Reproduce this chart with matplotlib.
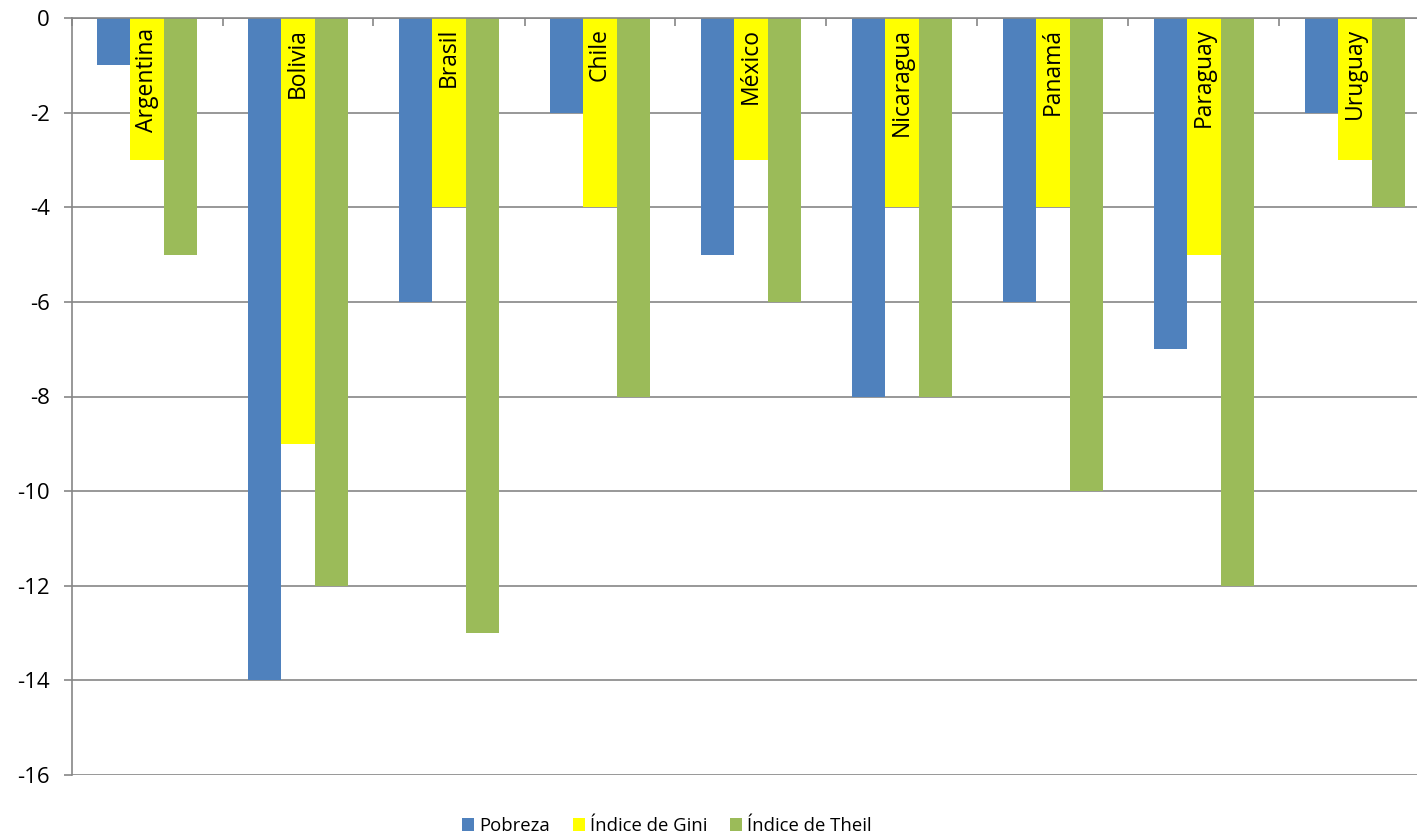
import matplotlib
matplotlib.use("Agg")
import matplotlib.pyplot as plt
import numpy as np
from matplotlib.patches import Patch
import matplotlib.transforms as mtransforms

plt.rcParams['font.family'] = ['Open Sans', 'DejaVu Sans']
plt.rcParams['axes.unicode_minus'] = False

categories = ["Argentina", "Bolivia", "Brasil", "Chile", "México", "Nicaragua", "Panamá", "Paraguay", "Uruguay"]
pobreza = [-1, -14, -6, -2, -5, -8, -6, -7, -2]
gini = [-3, -9, -4, -4, -3, -4, -4, -5, -3]
theil = [-5, -12, -13, -8, -6, -8, -10, -12, -4]
series_names = ["Pobreza", "Índice de Gini", "Índice de Theil"]
colors = ["#4F81BD", "#FFFF00", "#9BBB59"]

W, H = 1417, 839
fig = plt.figure(figsize=(W/100, H/100), dpi=100)
left, right, top, bottom = 71.5, 1430.5, 18, 775
ax = fig.add_axes([left/W, 1-bottom/H, (right-left)/W, (bottom-top)/H])

x = np.arange(len(categories))
bw = 1/4.5
for i, (vals, c) in enumerate(zip([pobreza, gini, theil], colors)):
    ax.bar(x + (i-1)*bw, vals, width=bw, color=c, edgecolor='none', zorder=2)

ax.set_xlim(-0.5, len(categories)-0.5)
ax.set_ylim(-16, 0)
ax.set_yticks(np.arange(-16, 1, 2))
ax.yaxis.grid(True, color='#868686', linewidth=1.2, zorder=0)
ax.set_axisbelow(True)

for s in ['right', 'bottom']:
    ax.spines[s].set_visible(False)
for s in ['left', 'top']:
    ax.spines[s].set_color('#868686')
    ax.spines[s].set_linewidth(1.2)

ax.tick_params(axis='y', length=5.5, color='#868686', width=1.2, labelsize=16, pad=10)
ax.xaxis.set_ticks_position('top')
ax.set_xticks(np.arange(-0.5, len(categories)-0.4, 1))
ax.set_xticklabels([])
ax.tick_params(axis='x', direction='in', length=6, color='#868686', width=1.2)

lbl_tr = mtransforms.offset_copy(ax.transData, fig=fig, x=0, y=-7, units='points')
for xi, name in zip(x, categories):
    ax.text(xi, 0, name, rotation=90, ha='center', va='top', fontsize=16.5,
            transform=lbl_tr, zorder=3)

handles = [Patch(facecolor=c, edgecolor='none') for c in colors]
fig.legend(handles, series_names, loc='center', bbox_to_anchor=(667/W, 1-826/H),
           ncol=3, frameon=False, fontsize=13.3, handlelength=0.65, handleheight=0.65,
           handletextpad=0.3, columnspacing=1.2)

fig.savefig("out.png", dpi=100)
